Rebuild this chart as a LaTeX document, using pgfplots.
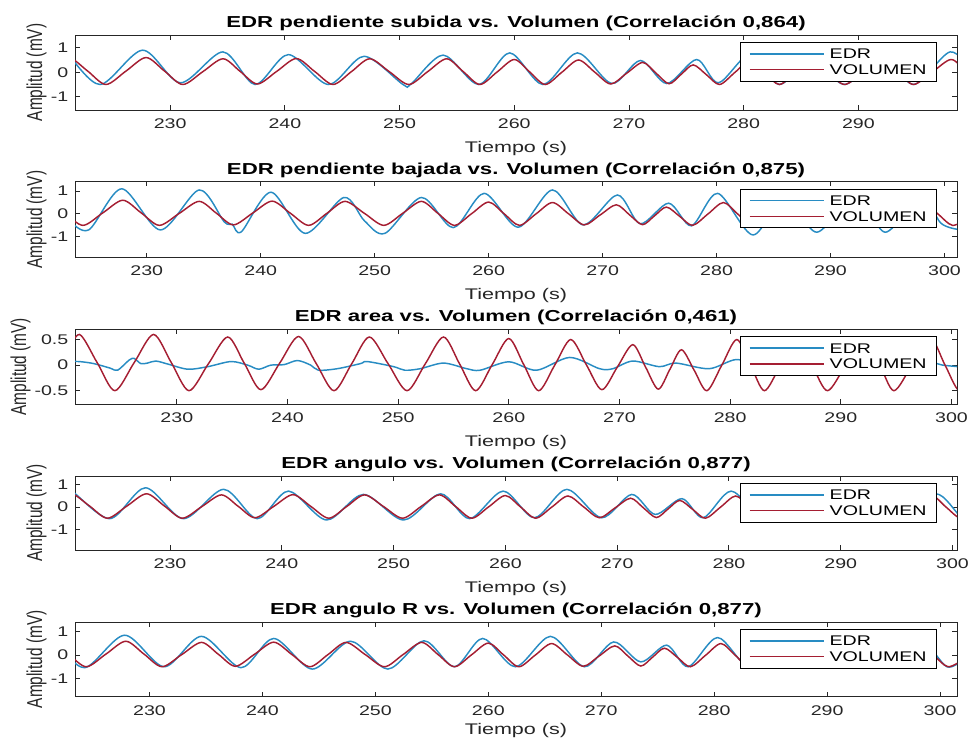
\documentclass[border=0pt]{standalone}
\usepackage{pgfplots}
\pgfplotsset{compat=1.18}
\usepackage{pgfplotstable}
\usepackage{graphicx}
\usepackage{fontspec}
\setmainfont[FakeStretch=1.4]{Liberation Sans}
\newfontfamily\plainfont{Liberation Sans}
\definecolor{edr}{RGB}{40,140,195}
\definecolor{vol}{RGB}{165,30,50}
\definecolor{axgray}{RGB}{38,38,38}

\pgfplotstableread{
t v
220.0 0.2
221.2 0.6
222.8 0.05
224.4 -0.5
226.15 0.05
227.9 0.6
229.5 0.05
231.1 -0.5
232.85 0.025
234.6 0.55
236.1 0.035
237.6 -0.48
239.3 0.04
241.0 0.56
242.6 0.03
244.2 -0.5
245.8 0.025
247.4 0.55
249.1 0.025
250.8 -0.5
252.45 0.025
254.1 0.55
255.55 0.025
257.0 -0.5
258.5 0.01
260.0 0.52
261.35 0.01
262.7 -0.5
264.15 0.0
265.6 0.5
267.0 0.01
268.4 -0.48
269.8 -0.04
271.2 0.4
272.35 -0.035
273.5 -0.47
274.55 -0.085
275.6 0.3
276.75 -0.1
277.9 -0.5
279.25 0.0
280.6 0.5
281.85 0.0
283.1 -0.5
284.55 0.0
286.0 0.5
287.4 0.0
288.8 -0.5
290.5 0.025
292.2 0.55
293.5 0.025
294.8 -0.5
296.45 0.01
298.1 0.52
299.4 0.01
300.7 -0.5
302.0 -0.2
}\vol

\pgfplotstableread{
t v
220.5 0.6
221.0 0.75
223.9 -0.5
227.6 0.9
230.9 -0.43
234.6 0.83
237.4 -0.5
240.3 0.72
243.8 -0.5
246.9 0.65
250.3 -0.5
251.0 -0.48
253.8 0.7
256.9 -0.5
259.6 0.79
262.5 -0.5
265.5 0.79
268.5 -0.46
271.0 0.48
273.3 -0.46
275.9 0.52
277.8 -0.43
280.6 0.75
283.1 -0.5
286.0 0.6
288.8 -0.5
292.2 0.7
294.8 -0.5
298.0 0.83
300.0 0.0
}\edrA

\pgfplotstableread{
t v
222.0 0.4
223.0 -0.2
224.9 -0.7
227.8 1.1
231.2 -0.7
234.6 1.05
236.8 -0.35
237.5 -0.45
238.3 -0.78
240.9 0.95
243.9 -0.85
247.3 0.72
249.1 -0.3
250.9 -0.85
254.1 0.72
256.9 -0.6
259.6 0.9
262.6 -0.58
265.6 1.05
268.3 -0.48
271.3 0.83
273.3 -0.43
275.8 0.47
277.8 -0.52
280.1 0.9
283.2 -0.92
286.0 0.8
288.8 -0.8
292.2 0.9
294.8 -0.8
297.9 0.8
299.7 -0.41
301.5 -0.7
302.5 -0.6
}\edrB

\pgfplotstableread{
t v
220.5 0.07
221.2 0.07
222.5 0.03
224.0 -0.06
224.65 -0.1
225.7 0.1
226.15 0.13
226.75 0.03
227.35 0.04
228.1 0.08
229.2 0.02
231.0 -0.08
232.8 -0.03
234.9 0.07
236.4 0.0
237.4 -0.08
238.5 0.0
239.7 0.01
240.9 0.09
242.1 0.0
242.8 -0.1
244.5 -0.07
246.6 0.03
247.2 0.07
249.6 -0.03
250.6 -0.1
252.0 -0.07
254.1 0.04
256.2 -0.07
257.4 -0.1
260.0 0.065
262.5 -0.1
265.5 0.15
268.2 -0.07
269.4 -0.07
271.2 0.08
273.6 -0.03
275.1 0.04
278.1 -0.07
280.6 0.11
283.0 -0.05
285.5 0.08
288.5 -0.06
291.5 0.08
295.0 -0.05
298.0 0.05
299.2 0.0
300.6 -0.03
}\edrC

\pgfplotstableread{
t v
220.3 0.5
221.0 0.8
224.6 -0.52
227.8 0.87
231.2 -0.52
234.8 0.8
237.8 -0.52
240.6 0.72
244.0 -0.58
247.3 0.57
250.9 -0.58
254.2 0.6
256.8 -0.52
259.8 0.72
262.6 -0.48
265.5 0.8
268.6 -0.48
271.3 0.57
273.4 -0.33
275.8 0.38
277.7 -0.48
280.2 0.72
283.1 -0.5
286.0 0.6
288.8 -0.5
292.2 0.65
294.8 -0.5
298.5 0.6
300.8 -0.45
301.8 -0.2
}\edrD

\pgfplotstableread{
t v
220.5 0.3
221.5 0.6
224.25 -0.54
227.8 0.86
231.3 -0.5
234.6 0.81
238.1 -0.54
241.0 0.72
244.4 -0.6
247.8 0.6
251.1 -0.6
254.3 0.62
257.0 -0.5
259.5 0.72
262.4 -0.5
265.5 0.81
268.5 -0.5
271.1 0.57
273.5 -0.29
275.8 0.43
277.7 -0.5
280.3 0.76
283.1 -0.5
286.0 0.6
288.8 -0.5
292.2 0.65
294.8 -0.5
298.3 0.55
300.6 -0.5
302.0 -0.2
}\edrE

\pgfplotsset{
  matstyle/.style={
    scale only axis, width=661.5pt,
    axis line style={axgray, line width=0.7pt},
    tick align=inside, major tick length=3.5pt,
    every tick/.style={axgray, line width=0.7pt},
    xtick={230,240,...,300},
    ticklabel style={font=\fontsize{10.5}{12}\selectfont, text=axgray},
    /pgf/number format/assume math mode=true,
    xticklabel style={yshift=-3pt},
    yticklabel style={xshift=-1.5pt},
    title style={font=\bfseries\fontsize{11.9}{13}\selectfont, at={(0.5,1)}, anchor=south, inner sep=0pt, yshift=-3pt},
    xlabel={Tiempo (s)},
    xlabel style={font=\fontsize{11.55}{13}\selectfont, text=axgray, at={(axis description cs:0.5,0)}, anchor=north, inner sep=0pt, yshift=-23pt},
    ylabel={\scalebox{1}[1.4]{\plainfont\fontsize{11.55}{13}\selectfont Amplitud (mV)}},
    ylabel style={text=axgray, at={(axis description cs:-0.032,0.5)}, anchor=south, inner sep=0pt},
    legend style={at={(1,1)}, anchor=north east, xshift=-15pt, yshift=-5.25pt,
      draw=black, line width=0.6pt, fill=white, inner xsep=6.5pt, inner ysep=3.75pt,
      row sep=2.25pt, font=\fontsize{10.5}{12}\selectfont,
      nodes={inner sep=1pt, text height=7.6pt, text depth=0pt}},
    legend cell align=left,
    legend image code/.code={\draw[##1, line width=1.1pt] (0pt,0pt) -- (55.5pt,0pt); \path (58.5pt,0pt);},
    edrline/.style={edr, line width=1.1pt, smooth},
    volline/.style={vol, line width=1.1pt, smooth},
  }
}

\begin{document}
\begin{tikzpicture}
\path[use as bounding box] (0,0) rectangle (726pt,556.5pt);

\begin{axis}[matstyle, at={(56.25pt,474pt)}, anchor=south west, height=56.25pt,
  xmin=221.7, xmax=298.6, ymin=-1.54, ymax=1.52, ytick={-1,0,1},
  title={EDR pendiente subida vs. Volumen (Correlación 0,864)}]
\addplot[edrline] table[x=t,y=v]{\edrA};
\addplot[volline] table[x=t,y=v]{\vol};
\legend{EDR,VOLUMEN}
\end{axis}

\begin{axis}[matstyle, at={(56.25pt,363.5pt)}, anchor=south west, height=56.7pt,
  xmin=223.7, xmax=301.1, ymin=-1.9, ymax=1.41, ytick={-1,0,1},
  title={EDR pendiente bajada vs. Volumen (Correlación 0,875)}]
\addplot[edrline] table[x=t,y=v]{\edrB};
\addplot[volline] table[x=t,y=v]{\vol};
\legend{EDR,VOLUMEN}
\end{axis}

\begin{axis}[matstyle, at={(56.25pt,253.5pt)}, anchor=south west, height=56pt,
  xmin=220.8, xmax=300.5, ymin=-0.76, ymax=0.7, ytick={-0.5,0,0.5},
  ylabel style={at={(axis description cs:-0.05,0.5)}},
  title={EDR area vs. Volumen (Correlación 0,461)}]
\addplot[edrline] table[x=t,y=v]{\edrC};
\addplot[volline] table[x=t,y=v]{\vol};
\legend{EDR,VOLUMEN}
\end{axis}

\begin{axis}[matstyle, at={(56.25pt,144pt)}, anchor=south west, height=55.5pt,
  xmin=221.5, xmax=300.4, ymin=-1.93, ymax=1.4, ytick={-1,0,1},
  title={EDR angulo vs. Volumen (Correlación 0,877)}]
\addplot[edrline] table[x=t,y=v]{\edrD};
\addplot[volline] table[x=t,y=v]{\vol};
\legend{EDR,VOLUMEN}
\end{axis}

\begin{axis}[matstyle, at={(56.25pt,34pt)}, anchor=south west, height=56pt,
  xmin=223.4, xmax=301.5, ymin=-1.79, ymax=1.43, ytick={-1,0,1},
  xlabel style={yshift=3pt},
  title={EDR angulo R vs. Volumen (Correlación 0,877)}]
\addplot[edrline] table[x=t,y=v]{\edrE};
\addplot[volline] table[x=t,y=v]{\vol};
\legend{EDR,VOLUMEN}
\end{axis}
\end{tikzpicture}
\end{document}
